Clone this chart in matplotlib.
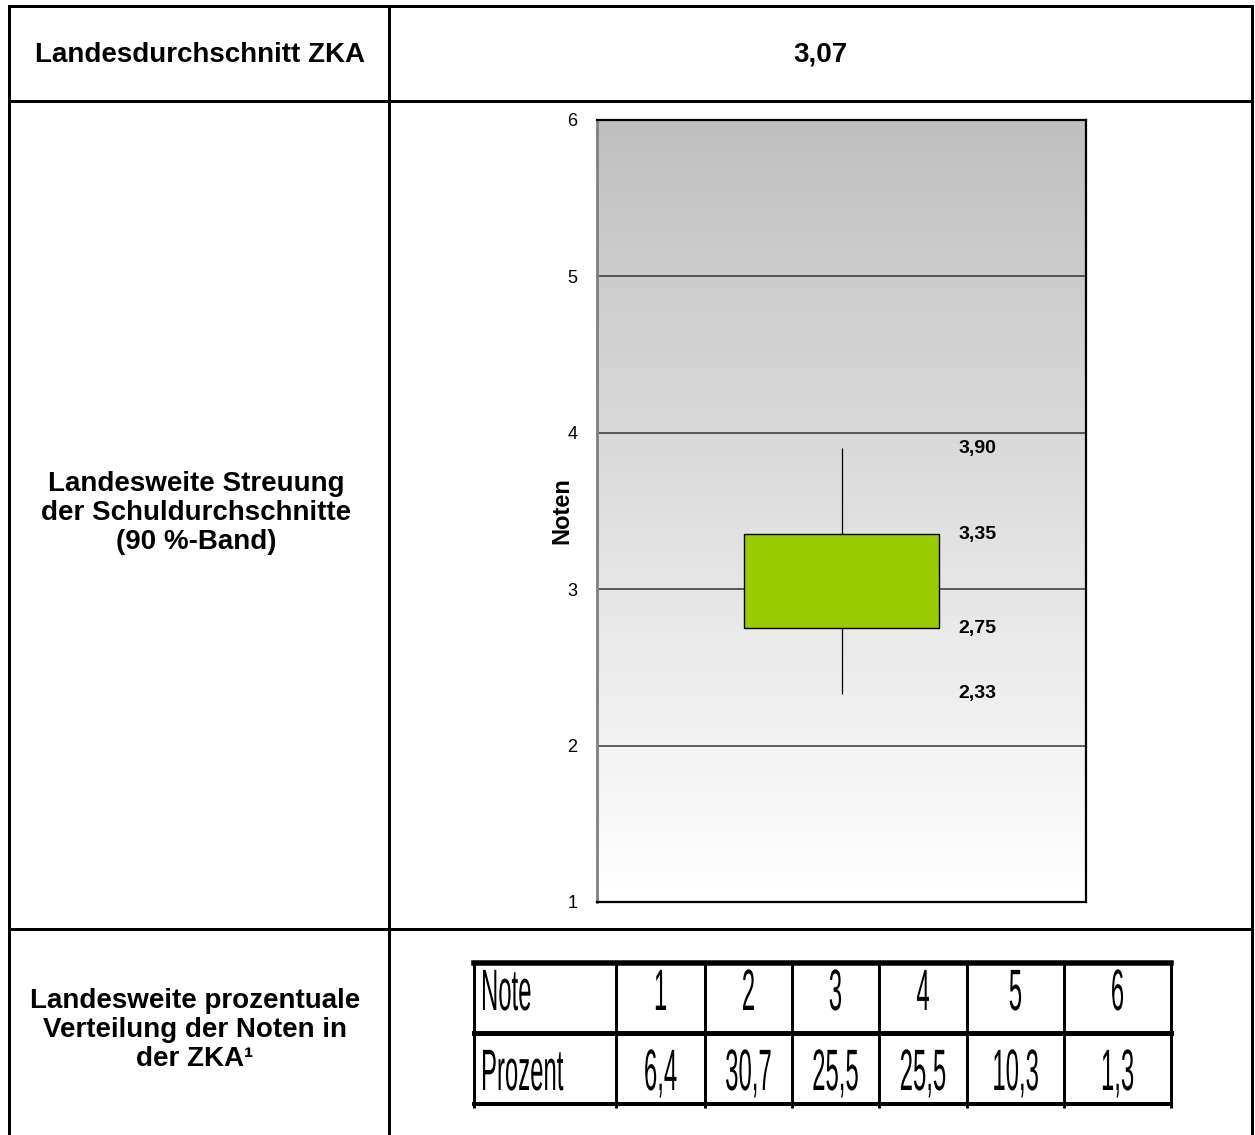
import numpy as np
import matplotlib
matplotlib.use('Agg')
import matplotlib.pyplot as plt
import matplotlib.patheffects as pe
from matplotlib.transforms import Affine2D
from matplotlib.colors import LinearSegmentedColormap
from matplotlib import font_manager

# Werte aus der Abbildung
durchschnitt = 3.07
band_unten = 2.33
quartil_unten = 2.75
quartil_oben = 3.35
band_oben = 3.90
y_ticks = [1, 2, 3, 4, 5, 6]

noten = ['1', '2', '3', '4', '5', '6']
prozent = [6.4, 30.7, 25.5, 25.5, 10.3, 1.3]

titel_oben = 'Landesdurchschnitt ZKA'
titel_mitte = ['Landesweite Streuung', 'der Schuldurchschnitte', '(90 %-Band)']
titel_unten = ['Landesweite prozentuale', 'Verteilung der Noten in', 'der ZKA\u00b9']


def fmt(v, d):
    return f'{v:.{d}f}'.replace('.', ',')


# Schrift der Tabelle ist schmal und hoch -> Pfad strecken
class Stretch(pe.AbstractPathEffect):
    def __init__(self, sx, sy, about='center'):
        super().__init__()
        self.sx, self.sy, self.about = sx, sy, about

    def draw_path(self, renderer, gc, tpath, affine, rgbFace=None):
        x0, y0 = affine.transform((0, 0))
        if self.about == 'center':
            ext = tpath.get_extents(affine)
            x0 = (ext.x0 + ext.x1) / 2
        t = affine + Affine2D().translate(-x0, -y0).scale(self.sx, self.sy).translate(x0, y0)
        renderer.draw_path(gc, tpath, t, rgbFace)


try:
    font_manager.findfont(font_manager.FontProperties(family='Liberation Sans Narrow'),
                          fallback_to_default=False)
    tab_font, tab_sx = 'Liberation Sans Narrow', 1.0
except ValueError:
    tab_font, tab_sx = 'Liberation Sans', 0.82

plt.rcParams['font.family'] = ['Liberation Sans', 'DejaVu Sans']

W, H = 1255, 1135
fig = plt.figure(figsize=(W / 100, H / 100), dpi=100)

# Seite in Pixelkoordinaten
page = fig.add_axes([0, 0, 1, 1])
page.set_xlim(0, W)
page.set_ylim(H, 0)
page.axis('off')

px = 0.72  # Pixel -> Punkt
page.hlines([6, 101, 929], 8.5, 1252, color='black', lw=3 * px, capstyle='projecting')
page.vlines([8.5, 389, 1252], 6, H, color='black', lw=3 * px, capstyle='projecting')

page.text(200, 62, titel_oben, ha='center', va='baseline', fontsize=20, fontweight='bold')
page.text(820, 62, fmt(durchschnitt, 2), ha='center', va='baseline', fontsize=20,
          fontweight='bold')
for zeile, y in zip(titel_mitte, [491, 520, 549]):
    page.text(196, y, zeile, ha='center', va='baseline', fontsize=20, fontweight='bold')
for zeile, y in zip(titel_unten, [1008, 1037, 1066]):
    page.text(195, y, zeile, ha='center', va='baseline', fontsize=20, fontweight='bold')

# Notentabelle
spalten = [474, 616, 705, 792, 879, 967, 1064, 1171]
zeilen = [963, 1033, 1104]
page.hlines(zeilen[0], spalten[0], spalten[-1], color='black', lw=5.5 * px, capstyle='projecting')
page.hlines(zeilen[1], spalten[0], spalten[-1], color='black', lw=5 * px, capstyle='projecting')
page.hlines(zeilen[2], spalten[0], spalten[-1], color='black', lw=4 * px, capstyle='projecting')
page.vlines(spalten, zeilen[0], zeilen[2] + 4, color='black', lw=3 * px)

tab_kw = dict(fontsize=21, family=tab_font, va='baseline')
page.text(481, 1010, 'Note', ha='left', path_effects=[Stretch(tab_sx, 2.0, 'left')], **tab_kw)
page.text(481, 1090, 'Prozent', ha='left', path_effects=[Stretch(tab_sx, 2.0, 'left')], **tab_kw)
for i, (n, p) in enumerate(zip(noten, prozent)):
    xm = (spalten[i + 1] + spalten[i + 2]) / 2
    page.text(xm, 1010, n, ha='center', path_effects=[Stretch(tab_sx, 2.0)], **tab_kw)
    page.text(xm, 1090, fmt(p, 1), ha='center', path_effects=[Stretch(tab_sx, 2.0)], **tab_kw)

# Diagramm
ax = fig.add_axes([597 / W, 1 - 902 / H, 489 / W, 782 / H])
cmap = LinearSegmentedColormap.from_list('bg', ['#ffffff', '#c0c0c0'])
grad = np.linspace(0, 1, 256).reshape(-1, 1)
ax.imshow(grad, extent=[0, 1, 1, 6], origin='lower', cmap=cmap, aspect='auto', zorder=0)
ax.set_xlim(0, 1)
ax.set_ylim(1, 6)
ax.set_yticks(y_ticks)
ax.set_xticks([])
ax.set_axisbelow(True)
ax.yaxis.grid(True, color='#333333', lw=1.1)
ax.tick_params(axis='y', length=0, pad=14, labelsize=13)

for s in ['top', 'right', 'bottom']:
    ax.spines[s].set_color('black')
    ax.spines[s].set_linewidth(1.6)
ax.spines['left'].set_color('#808080')
ax.spines['left'].set_linewidth(2)

ax.vlines(0.5, band_unten, band_oben, color='black', lw=0.9, zorder=2)
ax.bar(0.5, quartil_oben - quartil_unten, bottom=quartil_unten, width=0.4,
       color='#99cc00', edgecolor='black', lw=1, zorder=3)

for v in [band_oben, quartil_oben, quartil_unten, band_unten]:
    ax.text(0.74, v, fmt(v, 2), ha='left', va='center', fontsize=14, fontweight='bold')

ax.set_ylabel('Noten', fontsize=17, fontweight='bold')
ax.yaxis.set_label_coords(-0.049, 0.5)

fig.savefig('out.png', dpi=100)
